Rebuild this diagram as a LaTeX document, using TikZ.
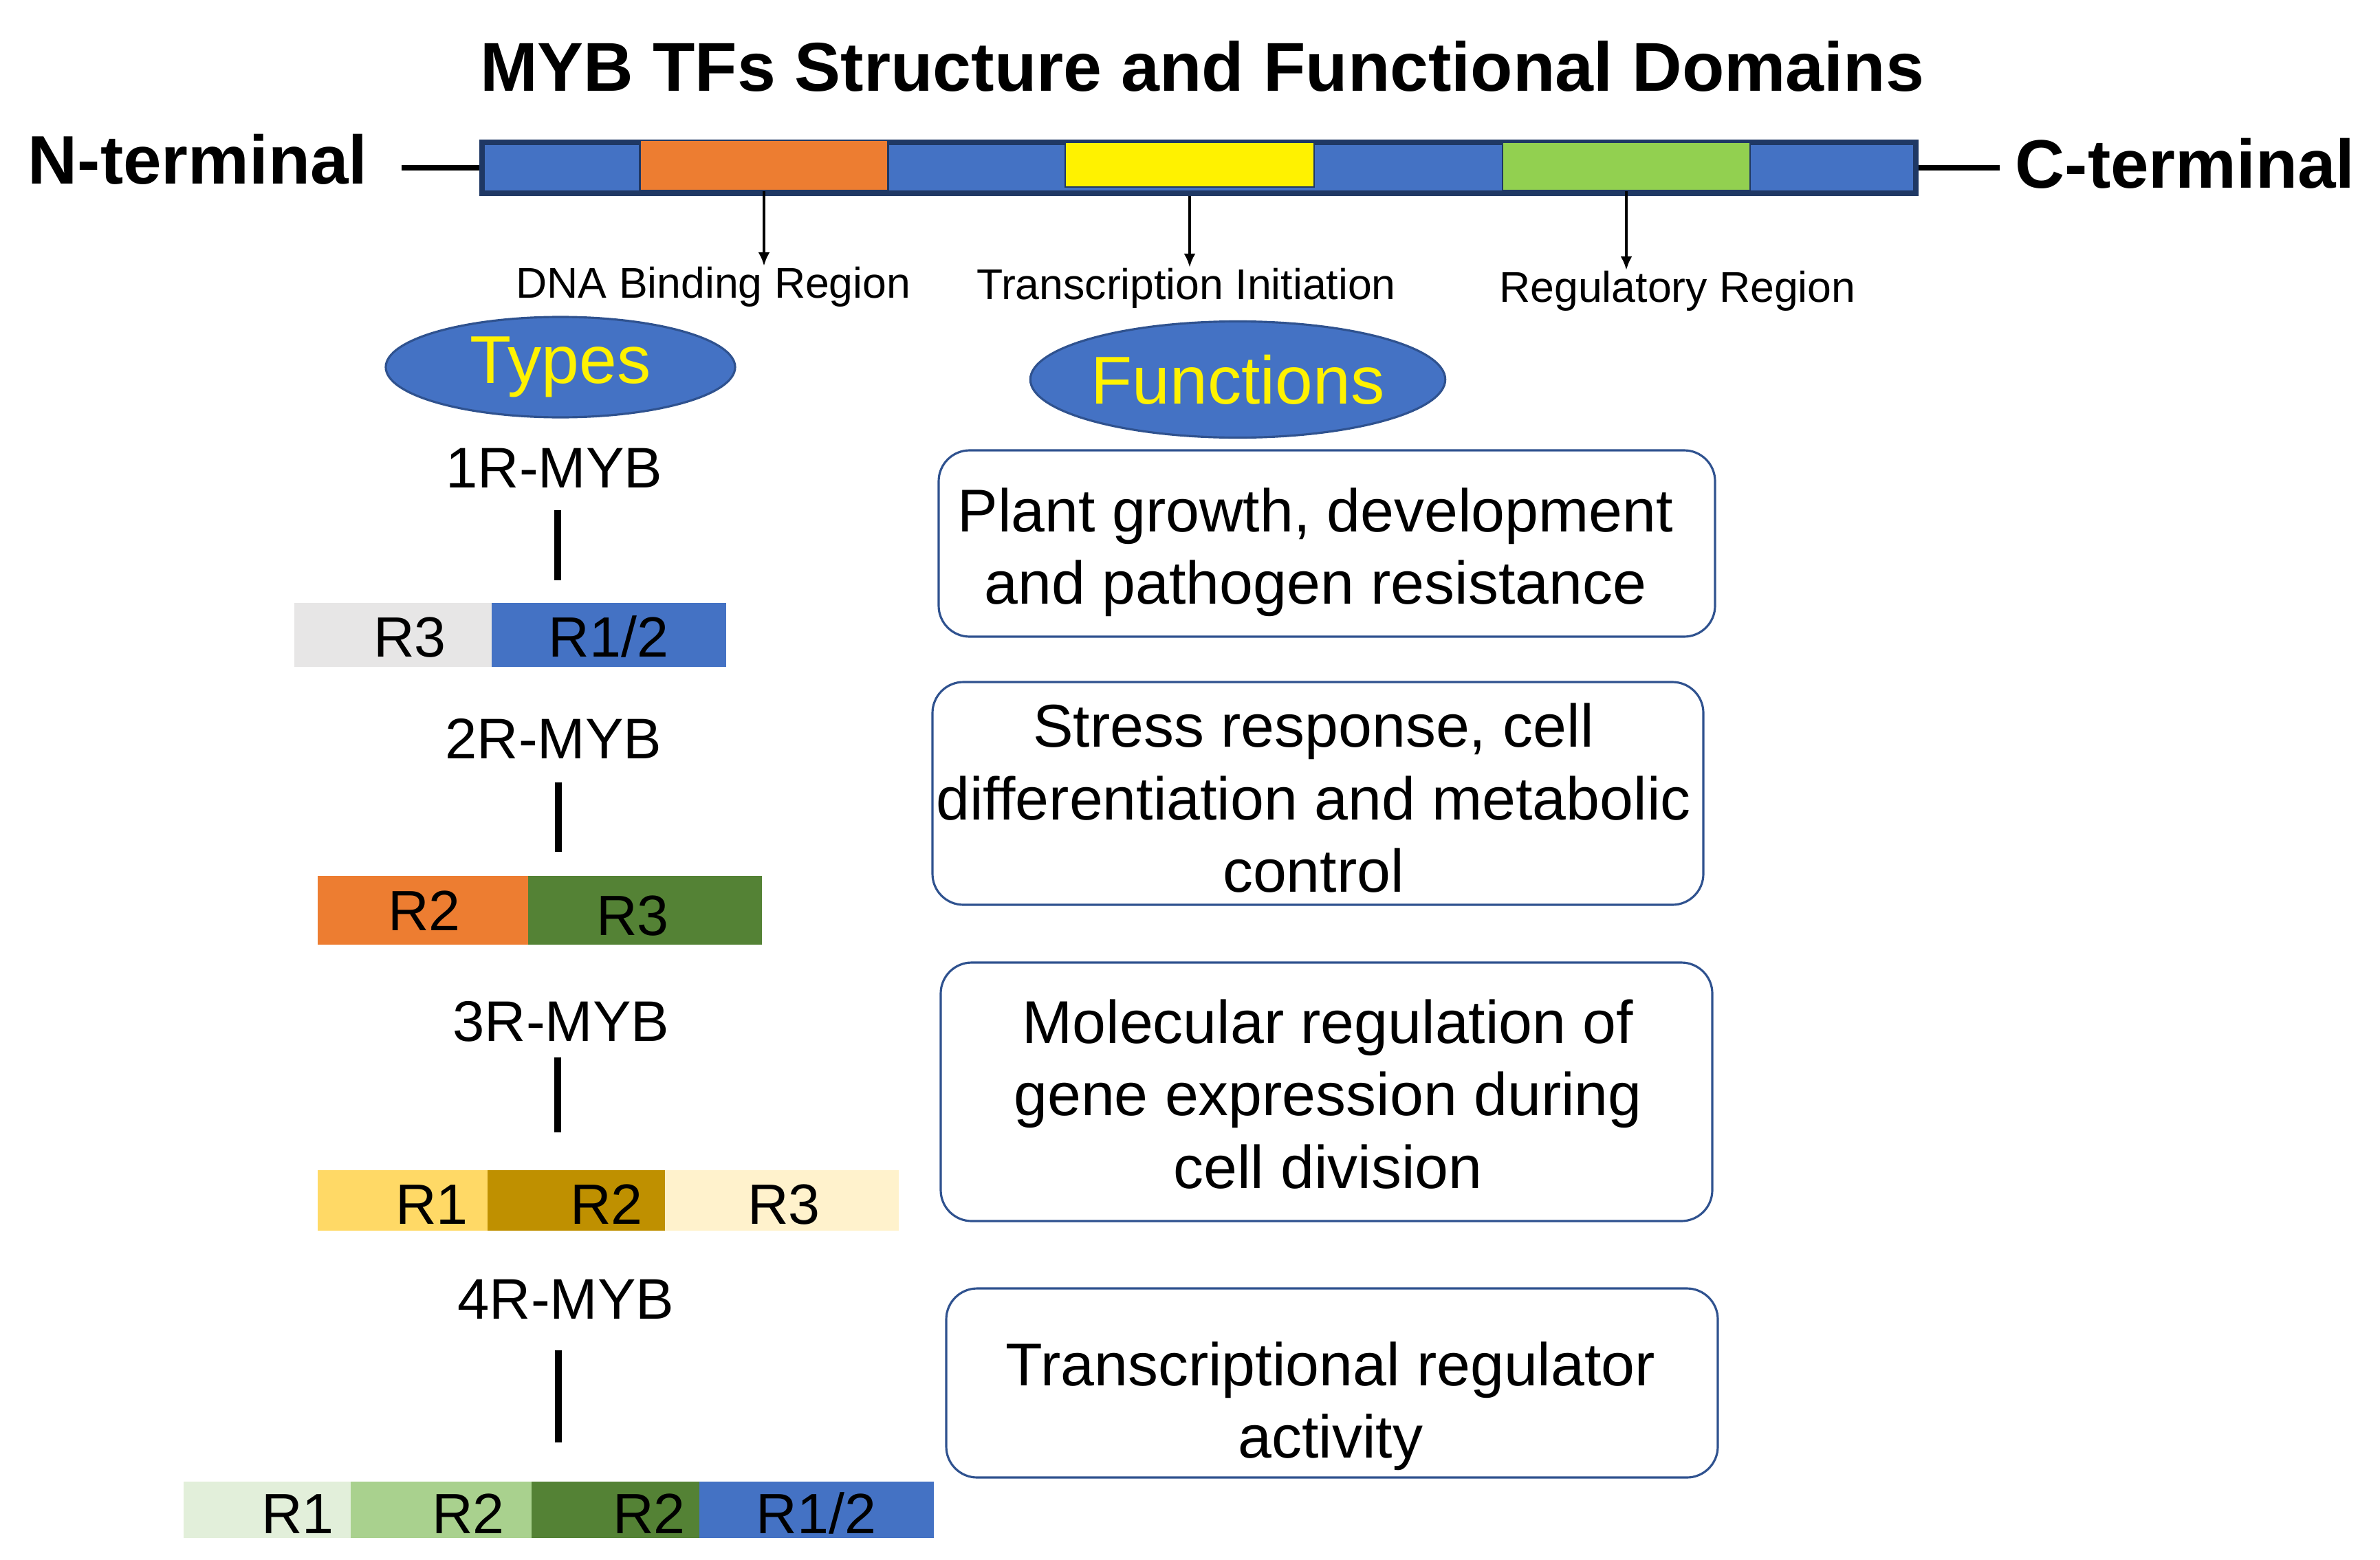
\documentclass[tikz,border=0pt]{standalone}
\usepackage{fontspec}
\setmainfont{Liberation Sans}
\usetikzlibrary{shapes.geometric,arrows.meta}

\definecolor{barblue}{HTML}{4472C4}
\definecolor{barnavy}{HTML}{1F3864}
\definecolor{boxnavy}{HTML}{2F528F}
\definecolor{domorange}{HTML}{ED7D31}
\definecolor{domgreen}{HTML}{92D050}
\definecolor{rgrey}{HTML}{E7E6E6}
\definecolor{rdkgreen}{HTML}{548235}
\definecolor{rgold}{HTML}{FFD966}
\definecolor{rdkgold}{HTML}{BF9000}
\definecolor{rcream}{HTML}{FFF2CC}
\definecolor{rpale}{HTML}{E2EFDA}
\definecolor{rlight}{HTML}{A9D18E}

\tikzset{
  termlab/.style={font=\fontsize{28.4}{34}\selectfont\bfseries, inner sep=0pt},
  termline/.style={line width=2.5pt},
  domblock/.style={draw=barnavy, line width=0.8pt, inner sep=0pt},
  domlab/.style={font=\fontsize{17.8}{21}\selectfont, anchor=base, inner sep=0pt},
  domarrow/.style={-{Latex[length=2mm,width=1.7mm]}, line width=1.2pt},
  headell/.style={ellipse, draw=boxnavy, line width=0.9pt, fill=barblue, text=yellow,
    inner sep=0pt, font=\fontsize{28}{32}\selectfont},
  typelab/.style={font=\fontsize{23.7}{28}\selectfont, anchor=base, inner sep=0pt},
  typeline/.style={line width=2.8pt},
  seg/.style={rectangle, inner sep=0pt, outer sep=0pt},
  rlab/.style={font=\fontsize{23.5}{28}\selectfont, anchor=base, inner sep=0pt},
  funcbox/.style={draw=boxnavy, line width=0.9pt, rounded corners=0.45cm, inner sep=0pt},
  functext/.style={font=\fontsize{25}{30}\selectfont, align=center, inner sep=0pt},
}

\begin{document}
\begin{tikzpicture}
    \useasboundingbox (0,0) rectangle (34.61,-22.69);
    % Title and protein bar
    \node[font=\fontsize{28.6}{34}\selectfont\bfseries, anchor=base, inner sep=0pt] (title) at (17.48,-1.33) {MYB TFs Structure and Functional Domains};
    \node[termlab, anchor=base west] (nterm) at (0.40,-2.68) {N-terminal};
    \node[termlab, anchor=base west] (cterm) at (29.30,-2.74) {C-terminal};
    \node[draw=barnavy, line width=2.2pt, fill=barblue, minimum width=20.85cm, minimum height=0.74cm, inner sep=0pt] (bar) at (17.435,-2.44) {};
    \node[domblock, fill=domorange, minimum width=3.61cm, minimum height=0.73cm] (dnabind) at (11.11,-2.405) {};
    \node[domblock, fill=yellow, minimum width=3.62cm, minimum height=0.65cm] (transinit) at (17.30,-2.395) {};
    \node[domblock, fill=domgreen, minimum width=3.60cm, minimum height=0.70cm] (regul) at (23.65,-2.42) {};
    \draw[termline, shorten >=0.49cm] (bar.west) -- (bar.west -| nterm.east);
    \draw[termline, shorten >=0.22cm] (bar.east) -- (bar.east -| cterm.west);
    % Domain labels
    \node[domlab] (dnalab) at (10.375,-4.33) {DNA Binding Region};
    \node[domlab] (translab) at (17.25,-4.35) {Transcription Initiation};
    \node[domlab] (reglab) at (24.395,-4.39) {Regulatory Region};
    \draw[domarrow] (dnabind.south) -- (dnabind.south |- dnalab.north);
    \draw[domarrow] (transinit.south |- bar.south) -- (transinit.south |- translab.north);
    \draw[domarrow] (regul.south) -- (regul.south |- reglab.north);
    % Headings
    \node[headell, minimum width=5.08cm, minimum height=1.46cm] (types) at (8.15,-5.34) {Types};
    \node[headell, minimum width=5.99cm, minimum height=1.69cm] (funcs) at (18.00,-5.52) {Functions};
    % 1R-MYB
    \node[typelab] (t1) at (8.06,-7.09) {1R-MYB};
    \node[seg, fill=rgrey, minimum width=2.87cm, minimum height=0.93cm] (b1a) at (5.715,-9.23) {};
    \node[seg, fill=barblue, minimum width=3.41cm, minimum height=0.93cm] (b1b) at (8.855,-9.23) {};
    \node[rlab] (l1a) at (5.96,-9.55) {R3};
    \node[rlab] (l1b) at (8.85,-9.55) {R1/2};
    \draw[typeline, shorten <=0.32cm, shorten >=0.33cm] ([xshift=0.5mm]t1.south) -- ([xshift=0.5mm]t1.south |- b1b.north);
    % 2R-MYB
    \node[typelab] (t2) at (8.05,-11.03) {2R-MYB};
    \node[seg, fill=domorange, minimum width=3.06cm, minimum height=1.00cm] (b2a) at (6.15,-13.24) {};
    \node[seg, fill=rdkgreen, minimum width=3.40cm, minimum height=1.00cm] (b2b) at (9.38,-13.24) {};
    \node[rlab] (l2a) at (6.17,-13.53) {R2};
    \node[rlab] (l2b) at (9.20,-13.60) {R3};
    \draw[typeline, shorten <=0.34cm, shorten >=0.35cm] ([xshift=0.7mm]t2.south) -- ([xshift=0.7mm]t2.south |- b2a.north);
    % 3R-MYB
    \node[typelab] (t3) at (8.16,-15.14) {3R-MYB};
    \node[seg, fill=rgold, minimum width=2.47cm, minimum height=0.88cm] (b3a) at (5.855,-17.46) {};
    \node[seg, fill=rdkgold, minimum width=2.58cm, minimum height=0.88cm] (b3b) at (8.38,-17.46) {};
    \node[seg, fill=rcream, minimum width=3.40cm, minimum height=0.88cm] (b3c) at (11.37,-17.46) {};
    \node[rlab] (l3a) at (6.28,-17.80) {R1};
    \node[rlab] (l3b) at (8.82,-17.80) {R2};
    \node[rlab] (l3c) at (11.40,-17.80) {R3};
    \draw[typeline, shorten <=0.22cm, shorten >=0.55cm] ([xshift=-0.5mm]t3.south) -- ([xshift=-0.5mm]t3.south |- b3b.north);
    % 4R-MYB
    \node[typelab] (t4) at (8.23,-19.18) {4R-MYB};
    \node[seg, fill=rpale, minimum width=2.43cm, minimum height=0.82cm] (b4a) at (3.885,-21.96) {};
    \node[seg, fill=rlight, minimum width=2.63cm, minimum height=0.82cm] (b4b) at (6.415,-21.96) {};
    \node[seg, fill=rdkgreen, minimum width=2.44cm, minimum height=0.82cm] (b4c) at (8.95,-21.96) {};
    \node[seg, fill=barblue, minimum width=3.41cm, minimum height=0.82cm] (b4d) at (11.875,-21.96) {};
    \node[rlab] (l4a) at (4.33,-22.30) {R1};
    \node[rlab] (l4b) at (6.81,-22.30) {R2};
    \node[rlab] (l4c) at (9.44,-22.30) {R2};
    \node[rlab] (l4d) at (11.87,-22.30) {R1/2};
    \draw[typeline, shorten <=0.45cm, shorten >=0.57cm] ([xshift=-1.1mm]t4.south) -- ([xshift=-1.1mm]t4.south |- b4c.north);
    % Function boxes
    \node[funcbox, minimum width=11.29cm, minimum height=2.71cm] (f1) at (19.295,-7.905) {};
    \node[functext] (f1txt) at (19.13,-8.035) {Plant growth, development\\and pathogen resistance};
    \node[funcbox, minimum width=11.21cm, minimum height=3.24cm] (f2) at (19.165,-11.54) {};
    \node[functext] (f2txt) at (19.10,-11.61) {Stress response, cell\\differentiation and metabolic\\control};
    \node[funcbox, minimum width=11.22cm, minimum height=3.76cm] (f3) at (19.29,-15.88) {};
    \node[functext] (f3txt) at (19.31,-15.915) {Molecular regulation of\\gene expression during\\cell division};
    \node[funcbox, minimum width=11.22cm, minimum height=2.75cm] (f4) at (19.37,-20.115) {};
    \node[functext] (f4txt) at (19.35,-20.455) {Transcriptional regulator\\activity};
\end{tikzpicture}
\end{document}
